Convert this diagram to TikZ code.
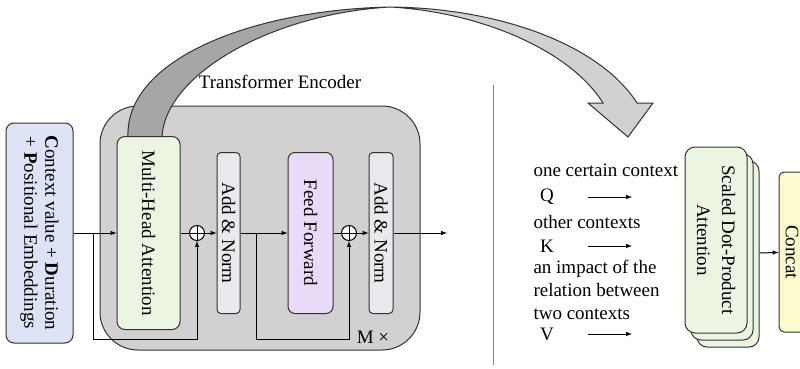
\documentclass[tikz,border=0pt]{standalone}
\usepackage{fontspec}
\setmainfont{Liberation Serif}
\definecolor{inblue}{RGB}{221,226,245}
\definecolor{encgray}{RGB}{210,208,208}
\definecolor{attgreen}{RGB}{236,245,226}
\definecolor{normgray}{RGB}{233,233,238}
\definecolor{fflilac}{RGB}{233,219,248}
\definecolor{catyellow}{RGB}{252,251,206}
\definecolor{ribdark}{RGB}{166,166,166}
\definecolor{riblight}{RGB}{210,208,208}

\begin{document}
\begin{tikzpicture}[x=1pt,y=-1pt,>=latex,line width=1pt,font=\fontsize{19}{23}\selectfont,
	block/.style={draw=black!80,rotate=-90,align=center,inner sep=0pt,rounded corners=8pt},
	slim/.style={block,rounded corners=4pt,minimum width=161pt},
	plus/.style={circle,draw,fill=white,minimum size=15pt,inner sep=0pt,
		path picture={\draw[line width=0.8pt] (path picture bounding box.north) -- (path picture bounding box.south)
			(path picture bounding box.west) -- (path picture bounding box.east);}},
	txt/.style={inner sep=0pt,anchor=west}]
	\useasboundingbox (0,0) rectangle (800,369);
	\node[draw=black!80,fill=encgray,rounded corners=38pt,minimum width=320pt,minimum height=244pt] (enc) at (260,228) {};
	\node (enclab) at (280,82) {Transformer Encoder};
	\filldraw[draw=black!80,fill=ribdark] (128,137) .. controls (125,60) and (250,10) .. (390,7)
		.. controls (270,14) and (165,75) .. (162,137) -- cycle;
	\filldraw[draw=black!80,fill=riblight] (390,7) .. controls (500,8) and (600,45) .. (637,103)
		-- (653,103) -- (628,137) -- (588,103) -- (603,103)
		.. controls (570,50) and (480,12) .. (390,7) -- cycle;
	\node[block,fill=inblue,minimum width=220pt,minimum height=67pt,font=\fontsize{19}{21}\selectfont] (inp) at (39.5,233)
		{\textbf{C}ontext value + \textbf{D}uration\\+ \textbf{P}ositional Embeddings};
	\node[block,fill=attgreen,minimum width=193pt,minimum height=63pt] (mha) at (148.5,233) {Multi-Head Attention};
	\node[plus] (plus1) at (197,233) {};
	\node[slim,fill=normgray,minimum height=23pt] (an1) at (228.5,233) {Add \& Norm};
	\node[slim,fill=fflilac,minimum height=45pt,rounded corners=7pt] (ff) at (310.5,233) {Feed Forward};
	\node[plus] (plus2) at (349,233) {};
	\node[slim,fill=normgray,minimum height=24pt] (an2) at (381,233) {Add \& Norm};
	\node (mx) at (373,337) {M ×};
	\coordinate (b1) at (93,233);
	\coordinate (r1) at (93,339);
	\coordinate (b2) at (256,233);
	\coordinate (r2) at (256,339);
	\coordinate (out) at (447,233);
	\draw[->] (inp) -- (mha);
	\draw (mha) -- (plus1);
	\draw[->] (plus1) -- (an1);
	\draw[->] (an1) -- (ff);
	\draw (ff) -- (plus2);
	\draw[->] (plus2) -- (an2);
	\draw[->] (an2) -- (out);
	\draw[->] (b1) -- (r1) -| (plus1);
	\draw[->] (b2) -- (r2) -| (plus2);
	\draw[black!50] (493,85) -- (493,365);
	\node[txt] (ctx1) at (533,170) {one certain context};
	\node (q) at (547,197) {Q};
	\node[txt] (ctx2) at (533,222) {other contexts};
	\node (k) at (547,246) {K};
	\node[txt,align=left,font=\fontsize{19}{23}\selectfont] (ctx3) at (533,290) {an impact of the\\relation between\\two contexts};
	\node (v) at (547,334) {V};
	\coordinate (qa) at (588,197);
	\coordinate (qb) at (632,197);
	\coordinate (ka) at (588,246);
	\coordinate (kb) at (632,246);
	\coordinate (va) at (588,334);
	\coordinate (vb) at (632,334);
	\draw[->] (qa) -- (qb);
	\draw[->] (ka) -- (kb);
	\draw[->] (va) -- (vb);
	\node[block,fill=attgreen,minimum width=186pt,minimum height=62pt,rounded corners=10pt] (sdpa3) at (728,254) {};
	\node[block,fill=attgreen,minimum width=186pt,minimum height=62pt,rounded corners=10pt] (sdpa2) at (722,247) {};
	\node[block,fill=attgreen,minimum width=186pt,minimum height=62pt,rounded corners=10pt,font=\fontsize{19}{25}\selectfont] (sdpa) at (716,240) {Scaled Dot-Product\\Attention};
	\node[block,fill=catyellow,minimum width=160pt,minimum height=26pt,rounded corners=5pt] (concat) at (792,252) {Concat};
	\draw[->] (sdpa3) -- (concat);
\end{tikzpicture}
\end{document}
